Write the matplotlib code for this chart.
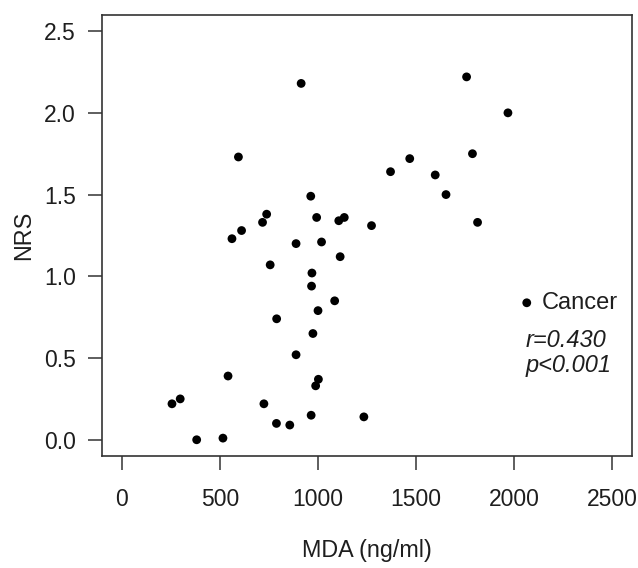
import matplotlib
matplotlib.use("Agg")
import matplotlib.pyplot as plt

plt.rcParams['font.family'] = ['Liberation Sans', 'DejaVu Sans']

mda = [914, 1758, 1969, 594, 1468, 1788, 1370, 1598, 1653, 963,
       738, 717, 993, 1106, 1134, 1273, 1814, 610, 561, 888,
       1018, 1113, 756, 969, 967, 1085, 1000, 789, 974, 888,
       541, 1002, 988, 297, 255, 724, 965, 1234, 788, 856,
       381, 515]
nrs = [2.18, 2.22, 2.00, 1.73, 1.72, 1.75, 1.64, 1.62, 1.50, 1.49,
       1.38, 1.33, 1.36, 1.34, 1.36, 1.31, 1.33, 1.28, 1.23, 1.20,
       1.21, 1.12, 1.07, 1.02, 0.94, 0.85, 0.79, 0.74, 0.65, 0.52,
       0.39, 0.37, 0.33, 0.25, 0.22, 0.22, 0.15, 0.14, 0.10, 0.09,
       0.00, 0.01]
xticks = [0, 500, 1000, 1500, 2000, 2500]
yticks = [0.0, 0.5, 1.0, 1.5, 2.0, 2.5]
series_label = "Cancer"
stats_lines = ["r=0.430", "p<0.001"]

fig = plt.figure(figsize=(6.38, 5.68), dpi=100)
ax = fig.add_axes([0.1605, 0.197, 0.8295, 0.777])
ax.scatter(mda, nrs, s=40, color='black', edgecolors='none', zorder=3)
ax.set_xlim(-100, 2600)
ax.set_ylim(-0.1, 2.6)
ax.set_xticks(xticks)
ax.set_xticklabels([str(t) for t in xticks])
ax.set_yticks(yticks)
ax.set_yticklabels([f"{t:.1f}" for t in yticks])
txtc = '#1e1e1e'
fs = 16.5
ax.tick_params(axis='both', direction='out', length=10, width=1.1, color='#333333',
               labelsize=fs, labelcolor=txtc)
ax.tick_params(axis='y', pad=9)
ax.tick_params(axis='x', pad=13)
for s in ax.spines.values():
    s.set_linewidth(1.2)
    s.set_color('#333333')
ax.set_xlabel("MDA (ng/ml)", fontsize=16.8, color=txtc)
ax.xaxis.label.set_va('center')
ax.xaxis.set_label_coords(0.5, -0.215)
ax.set_ylabel("NRS", fontsize=16.8, color=txtc)
ax.yaxis.label.set_va('center')
ax.yaxis.set_label_coords(-0.149, 0.5)

# legend-like annotation
ax.scatter([2065], [0.838], s=40, color='black', edgecolors='none', zorder=3)
ax.text(2141, 0.838, series_label, fontsize=17, color=txtc, va='center', ha='left')
ax.text(2058, 0.61, stats_lines[0], fontsize=17, color=txtc, va='center', ha='left', style='italic')
ax.text(2058, 0.452, stats_lines[1], fontsize=17, color=txtc, va='center', ha='left', style='italic')

fig.savefig("out.png", dpi=100)
